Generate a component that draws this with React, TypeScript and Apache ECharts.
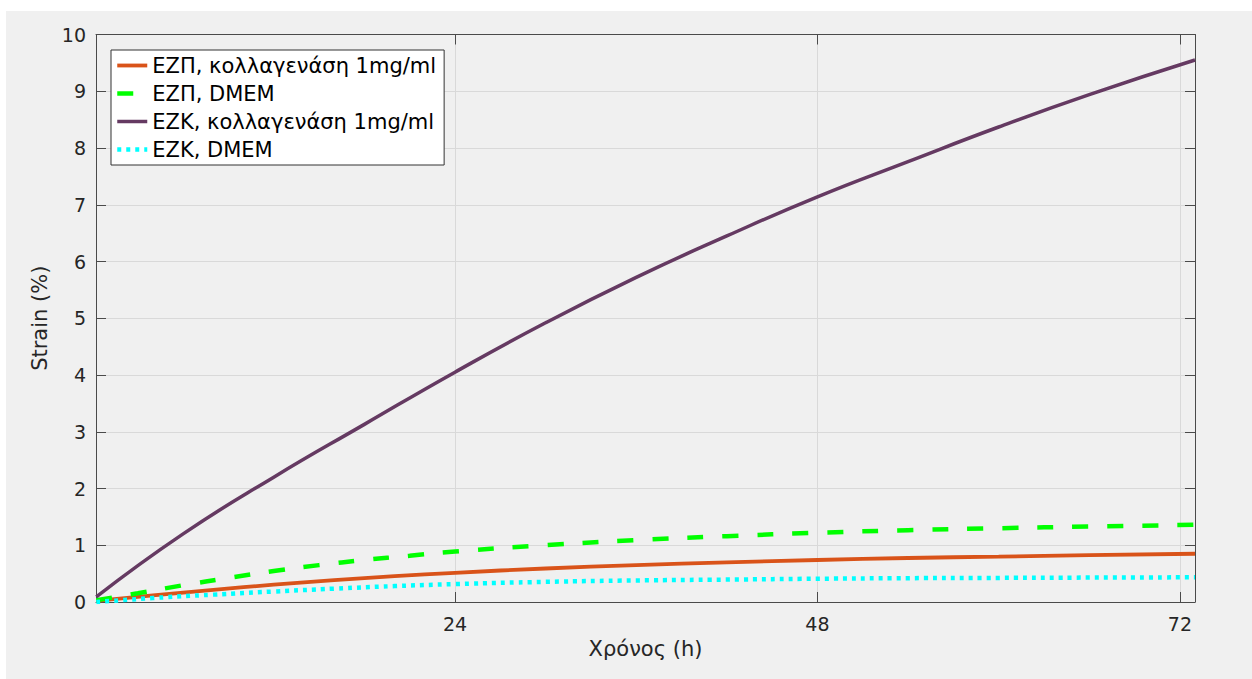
import React, { useEffect, useRef } from "react";
import * as echarts from "echarts";

const seriesNames = [
  "ΕΖΠ, κολλαγενάση 1mg/ml",
  "ΕΖΠ, DMEM",
  "ΕΖΚ, κολλαγενάση 1mg/ml",
  "ΕΖΚ, DMEM",
];
const xAxisTitle = "Χρόνος (h)";
const yAxisTitle = "Strain (%)";
const xTickValues = [24, 48, 72];

const ezpCollT = [0.25, 4, 8, 12, 16, 20, 24, 30, 36, 42, 48, 54, 60, 66, 73];
const ezpCollY = [0.02, 0.115, 0.215, 0.305, 0.385, 0.455, 0.515, 0.59, 0.65, 0.7, 0.74, 0.775, 0.8, 0.825, 0.85];

const ezpDmemT = [0.25, 3, 6, 9, 12, 15, 18, 21, 24, 30, 36, 42, 48, 54, 60, 66, 73];
const ezpDmemY = [0.03, 0.155, 0.295, 0.425, 0.545, 0.65, 0.74, 0.815, 0.89, 1.0, 1.09, 1.16, 1.22, 1.265, 1.3, 1.33, 1.36];

const ezkCollT = [0.25, 6, 12, 18, 24, 30, 36, 42, 48, 54, 60, 66, 73];
const ezkCollY = [0.09, 1.2, 2.2, 3.13, 4.05, 4.92, 5.72, 6.45, 7.14, 7.76, 8.37, 8.94, 9.55];

const ezkDmemT = [0.25, 4, 8, 12, 16, 20, 24, 30, 36, 42, 48, 54, 60, 66, 73];
const ezkDmemY = [0.0, 0.07, 0.13, 0.185, 0.235, 0.28, 0.315, 0.355, 0.38, 0.395, 0.41, 0.42, 0.425, 0.43, 0.435];

const pairs = (t: number[], y: number[]) => t.map((v, i) => [v, y[i]]);

const FONT = "DejaVu Sans";
const AXIS_COLOR = "#4a4a4a";
const TEXT_COLOR = "#262626";
const GRID_COLOR = "#d9d9d9";

export default function App() {
  const ref = useRef<HTMLDivElement>(null);

  useEffect(() => {
    if (!ref.current) return;
    const chart = echarts.init(ref.current, undefined, { renderer: "svg" });

    const styles = [
      { color: "#D95319", width: 3.8, type: "solid" as any },
      { color: "#00FF00", width: 4.5, type: [16, 19] as any },
      { color: "#653A62", width: 3.5, type: "solid" as any },
      { color: "#00FFFF", width: 4.5, type: [4, 5] as any },
    ];
    const datasets = [
      pairs(ezpCollT, ezpCollY),
      pairs(ezpDmemT, ezpDmemY),
      pairs(ezkCollT, ezkCollY),
      pairs(ezkDmemT, ezkDmemY),
    ];

    const baseX = {
      type: "value" as const,
      min: 0.23,
      max: 73,
      axisLine: { show: true, onZero: false, lineStyle: { color: AXIS_COLOR, width: 1 } },
      axisTick: { show: true, inside: true, length: 10, customValues: xTickValues, lineStyle: { color: AXIS_COLOR } },
    };
    const baseY = {
      type: "value" as const,
      min: 0,
      max: 10,
      interval: 1,
      axisLine: { show: true, onZero: false, lineStyle: { color: AXIS_COLOR, width: 1 } },
      axisTick: { show: true, inside: true, length: 10, lineStyle: { color: AXIS_COLOR } },
    };

    chart.setOption({
      animation: false,
      backgroundColor: "#f0f0f0",
      grid: { left: 90, top: 23.5, right: 57, bottom: 77, containLabel: false },
      xAxis: [
        {
          ...baseX,
          position: "bottom",
          axisLabel: {
            customValues: xTickValues,
            color: TEXT_COLOR,
            fontFamily: FONT,
            fontSize: 19,
            margin: 12,
          },
          splitLine: { show: true, lineStyle: { color: GRID_COLOR, width: 1 } },
          name: xAxisTitle,
          nameLocation: "middle",
          nameGap: 36,
          nameTextStyle: { color: TEXT_COLOR, fontFamily: FONT, fontSize: 21 },
        },
        {
          ...baseX,
          position: "top",
          axisLabel: { show: false },
          splitLine: { show: false },
        },
      ],
      yAxis: [
        {
          ...baseY,
          position: "left",
          axisLabel: { color: TEXT_COLOR, fontFamily: FONT, fontSize: 19, margin: 10 },
          splitLine: { show: true, lineStyle: { color: GRID_COLOR, width: 1 } },
          name: yAxisTitle,
          nameLocation: "middle",
          nameGap: 43,
          nameTextStyle: { color: TEXT_COLOR, fontFamily: FONT, fontSize: 21 },
        },
        {
          ...baseY,
          position: "right",
          axisLabel: { show: false },
          splitLine: { show: false },
        },
      ],
      legend: {
        show: true,
        orient: "vertical",
        left: 105,
        top: 39,
        padding: [5, 8, 5, 4],
        itemWidth: 30,
        itemHeight: 14,
        itemGap: 7,
        backgroundColor: "#ffffff",
        borderColor: "#333333",
        borderWidth: 1,
        borderRadius: 0,
        itemStyle: { opacity: 0 },
        textStyle: { color: "#000000", fontFamily: FONT, fontSize: 21, lineHeight: 21 },
        data: seriesNames.map((n, i) => ({
          name: n,
          lineStyle: { width: styles[i].width, type: styles[i].type, color: styles[i].color },
        })),
      },
      series: datasets.map((d, i) => ({
        name: seriesNames[i],
        type: "line",
        xAxisIndex: 0,
        yAxisIndex: 0,
        data: d,
        smooth: true,
        showSymbol: false,
        symbol: "none",
        clip: true,
        lineStyle: { color: styles[i].color, width: styles[i].width, type: styles[i].type, cap: "butt" },
        itemStyle: { color: styles[i].color },
        z: 3 + i,
      })),
    });

    return () => chart.dispose();
  }, []);

  return (
    <div style={{ position: "absolute", left: 0, top: 0, width: 1252, height: 679, background: "#ffffff" }}>
      <div ref={ref} style={{ position: "absolute", left: 6, top: 11, width: 1246, height: 668 }} />
    </div>
  );
}
